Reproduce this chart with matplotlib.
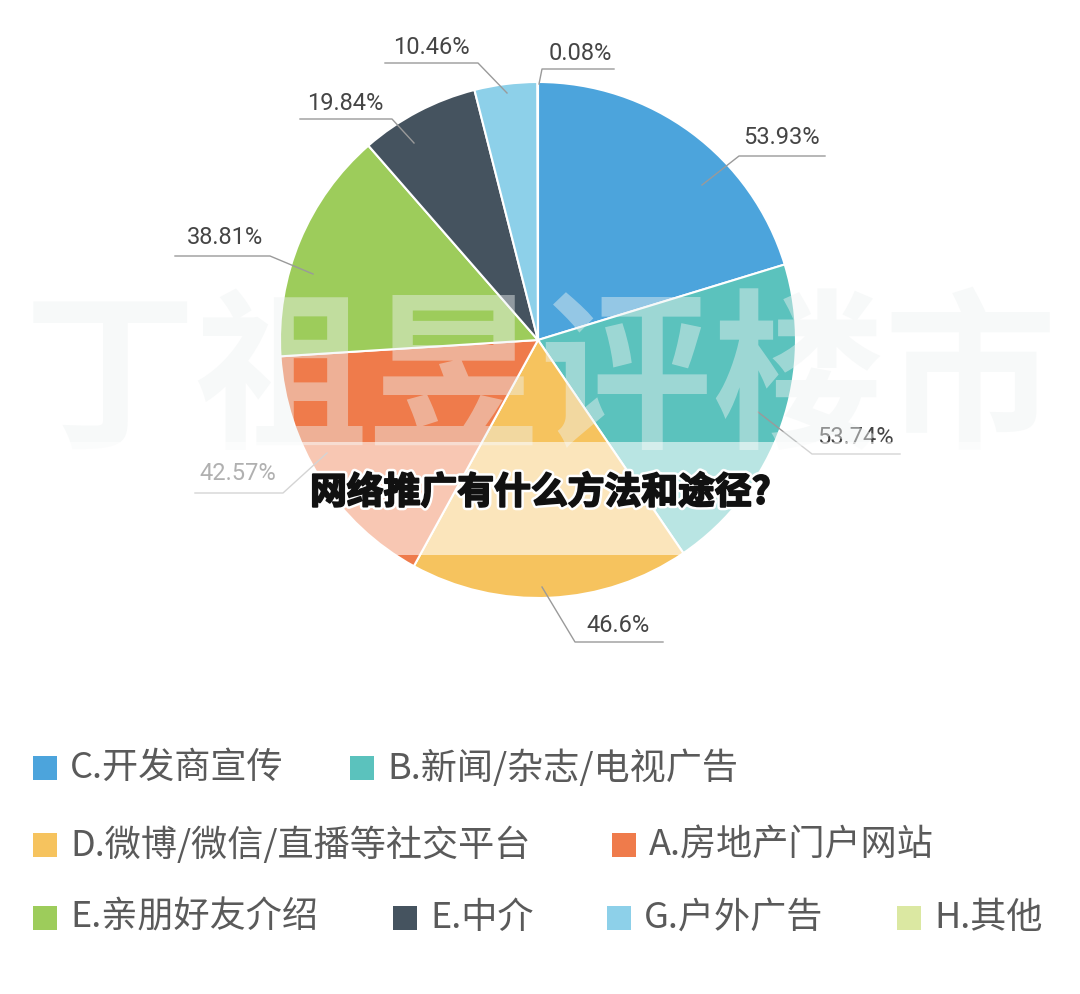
import matplotlib.pyplot as plt
import matplotlib.patheffects as pe
from matplotlib.patches import Rectangle

plt.switch_backend('Agg')
plt.rcParams['font.family'] = ['Noto Sans CJK SC', 'DejaVu Sans']

# Данные
categories = ['C.开发商宣传', 'B.新闻/杂志/电视广告', 'D.微博/微信/直播等社交平台',
              'A.房地产门户网站', 'E.亲朋好友介绍', 'E.中介', 'G.户外广告', 'H.其他']
values = [53.93, 53.74, 46.6, 42.57, 38.81, 19.84, 10.46, 0.08]
value_labels = ['53.93%', '53.74%', '46.6%', '42.57%', '38.81%', '19.84%', '10.46%', '0.08%']
colors = ['#4ca4dc', '#5bc2bd', '#f6c35e', '#ef7b4b', '#9dcc5b', '#45535f', '#8dd0e9', '#dbe8a2']

title = '网络推广有什么方法和途径?'
watermark = '丁祖昱评楼市'

# Раскладка подписей (пиксели): начало линии, излом, конец полки, центр текста
label_layout = [
    ((702, 185), (739, 156), (825, 156), (781, 137)),
    ((758, 412), (812, 454), (900, 454), (855, 437)),
    ((542, 587), (575, 642), (663, 642), (618, 625)),
    ((327, 453), (283, 493), (195, 493), (238, 473)),
    ((313, 274), (270, 256), (175, 256), (225, 237)),
    ((414, 143), (392, 119), (300, 119), (345, 104)),
    ((507, 93), (478, 63), (385, 63), (431, 48)),
    ((539, 84), (542, 69), (614, 69), (580, 54)),
]
# Легенда: (x маркера, y строки)
legend_layout = [(33, 768), (350, 768), (33, 845), (612, 845),
                 (33, 918), (393, 918), (607, 918), (897, 918)]

W, H = 1080, 994
fig = plt.figure(figsize=(W / 100, H / 100), dpi=100)
ax = fig.add_axes([0, 0, 1, 1])

# Пирог (ось y перевёрнута, поэтому startangle=-90 и counterclock=True)
ax.pie(values, colors=colors, center=(538, 340), radius=258,
       startangle=-90, counterclock=True,
       wedgeprops=dict(edgecolor='white', linewidth=1.5), frame=False)

ax.set_xlim(0, W)
ax.set_ylim(H, 0)
ax.set_aspect('auto')
ax.axis('off')

# Подписи с выносками
for lab, (p0, p1, p2, pt) in zip(value_labels, label_layout):
    ax.plot([p0[0], p1[0], p2[0]], [p0[1], p1[1], p2[1]], color='#9a9a9a',
            linewidth=1.0, zorder=3)
    ax.text(pt[0], pt[1], lab, ha='center', va='center', fontsize=17,
            color='#454545', family=['Roboto', 'DejaVu Sans'], zorder=3)

# Водяной знак
ax.text(540, 384, watermark, ha='center', va='center', fontsize=124,
        fontweight='semibold', color='#eef2f2', alpha=0.45, zorder=4)

# Светлая полоса под заголовком
ax.add_patch(Rectangle((0, 442), W, 113, facecolor='white', alpha=0.58,
                       edgecolor='none', zorder=5))

# Заголовок
ax.text(540, 493, title, ha='center', va='center', fontsize=26.5,
        fontweight='bold', color='#111111', zorder=6,
        path_effects=[pe.Stroke(linewidth=5, foreground='white'),
                      pe.Stroke(linewidth=1.4, foreground='#111111'),
                      pe.Normal()])

# Легенда
for cat, col, (lx, ly) in zip(categories, colors, legend_layout):
    ax.add_patch(Rectangle((lx, ly - 12), 24, 24, facecolor=col,
                           edgecolor='none', zorder=3))
    ax.text(lx + 37, ly, cat, ha='left', va='center', fontsize=26,
            color='#5a5a5a', zorder=3)

fig.savefig('out.png', dpi=100, facecolor='white')
plt.close(fig)
